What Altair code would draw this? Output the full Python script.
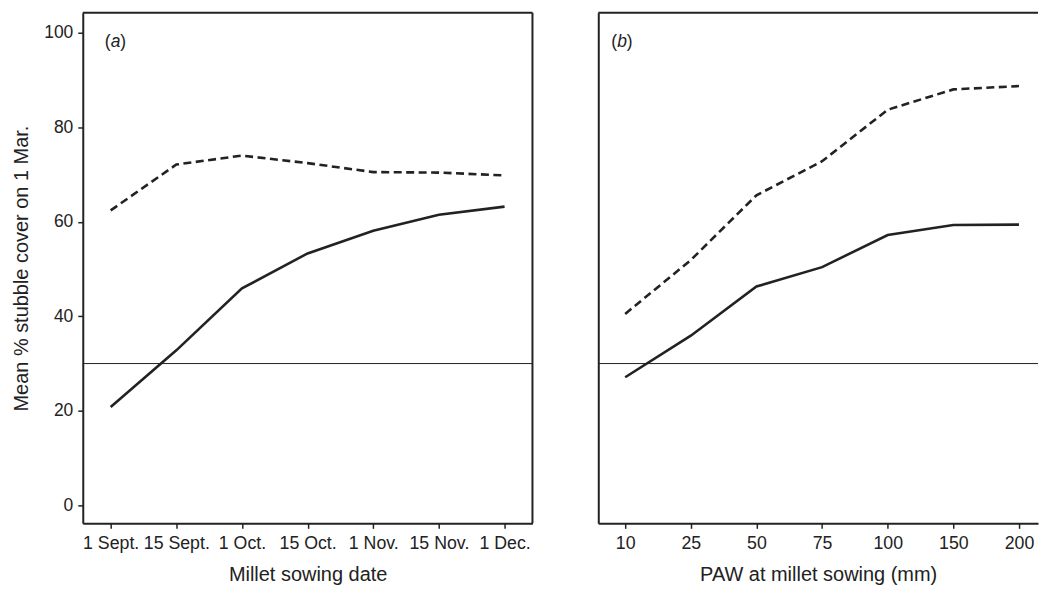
import json
import altair as alt
import pandas as pd

# ---- data ----
dates = ["1 Sept.", "15 Sept.", "1 Oct.", "15 Oct.", "1 Nov.", "15 Nov.", "1 Dec."]
a_solid = [20.8, 32.8, 45.9, 53.3, 58.1, 61.5, 63.2]
a_dashed = [62.4, 72.1, 74.0, 72.4, 70.5, 70.4, 69.8]

paw = ["10", "25", "50", "75", "100", "150", "200"]
b_solid = [27.1, 35.9, 46.3, 50.4, 57.2, 59.3, 59.4]
b_dashed = [40.5, 51.9, 65.6, 72.8, 83.7, 88.0, 88.7]

threshold = [30]
y_ticks = [0, 20, 40, 60, 80, 100]

INK = "#222222"
FONT = "Liberation Sans"
H = 512
Y_DOMAIN = [-3.8, 104.2]


def make_df(solid, dashed):
    rows = []
    for i, v in enumerate(solid):
        rows.append({"idx": i, "value": v, "series": "solid"})
    for i, v in enumerate(dashed):
        rows.append({"idx": i, "value": v, "series": "dashed"})
    return pd.DataFrame(rows)


def panel(df, labels, xdomain, width, xtitle, left_axis, letter, letter_x, right_border):
    x_axis = alt.Axis(
        values=list(range(len(labels))),
        labelExpr=json.dumps(labels) + "[datum.value]",
        title=xtitle, grid=False, tickSize=5, tickWidth=1.5,
        labelPadding=6, titlePadding=13, labelFontSize=17.8, titleFontSize=20,
        domainWidth=2, labelAngle=0, labelFlush=False, labelOverlap=False,
    )
    if left_axis:
        y_axis = alt.Axis(
            values=y_ticks, grid=False, tickSize=5, tickWidth=1.5,
            labelPadding=5, titlePadding=12, labelFontSize=17.5, titleFontSize=20,
            domainWidth=2, title="Mean % stubble cover on 1 Mar.",
        )
    else:
        y_axis = alt.Axis(
            values=y_ticks, grid=False, ticks=False, labels=False,
            domainWidth=2, title="",
        )
    x = alt.X("idx:Q", scale=alt.Scale(domain=xdomain, nice=False, zero=False), axis=x_axis)
    y = alt.Y("value:Q", scale=alt.Scale(domain=Y_DOMAIN, nice=False, zero=False), axis=y_axis)

    base = alt.Chart(df)
    solid = base.transform_filter(alt.datum.series == "solid").mark_line(
        color=INK, strokeWidth=2.6
    ).encode(x=x, y=y)
    dashed = base.transform_filter(alt.datum.series == "dashed").mark_line(
        color=INK, strokeWidth=2.6, strokeDash=[8, 4.5]
    ).encode(x=x, y=y)

    thr = alt.Chart(pd.DataFrame({"value": threshold})).mark_rule(
        color=INK, strokeWidth=1
    ).encode(y=alt.Y("value:Q"))

    one = pd.DataFrame({"k": [0]})
    top = alt.Chart(one).mark_rule(color=INK, strokeWidth=2).encode(
        x=alt.value(0), x2=alt.value(width), y=alt.value(0)
    )
    layers = [solid, dashed, thr, top]
    if right_border:
        layers.append(
            alt.Chart(one).mark_rule(color=INK, strokeWidth=2).encode(
                x=alt.value(width), y=alt.value(0), y2=alt.value(H)
            )
        )
    lw = 17.5
    layers.append(alt.Chart(one).mark_text(text="(", font=FONT, fontSize=lw, color=INK,
                                           align="left", baseline="middle").encode(
        x=alt.value(letter_x), y=alt.value(29)))
    layers.append(alt.Chart(one).mark_text(text=letter, font=FONT, fontSize=lw, color=INK,
                                           fontStyle="italic", align="left", baseline="middle").encode(
        x=alt.value(letter_x + 6), y=alt.value(29)))
    layers.append(alt.Chart(one).mark_text(text=")", font=FONT, fontSize=lw, color=INK,
                                           align="left", baseline="middle").encode(
        x=alt.value(letter_x + 15.5), y=alt.value(29)))

    return alt.layer(*layers).properties(width=width, height=H)


left = panel(make_df(a_solid, a_dashed), dates, [-0.425, 6.425], 451,
             "Millet sowing date", True, "a", 22, True)
right = panel(make_df(b_solid, b_dashed), paw, [-0.41, 6.29], 441,
              "PAW at millet sowing (mm)", False, "b", 13, False)

chart = alt.hconcat(left, right, spacing=66, bounds="flush").properties(
    padding={"left": 11, "top": 10, "right": 0, "bottom": 0},
    background="white",
).configure_axis(
    labelFont=FONT, titleFont=FONT, labelColor=INK, titleColor=INK,
    titleFontWeight="normal", domainColor=INK, tickColor=INK,
).configure_view(stroke="transparent")

chart.save("out.html", embed_options={"renderer": "svg", "actions": False})
